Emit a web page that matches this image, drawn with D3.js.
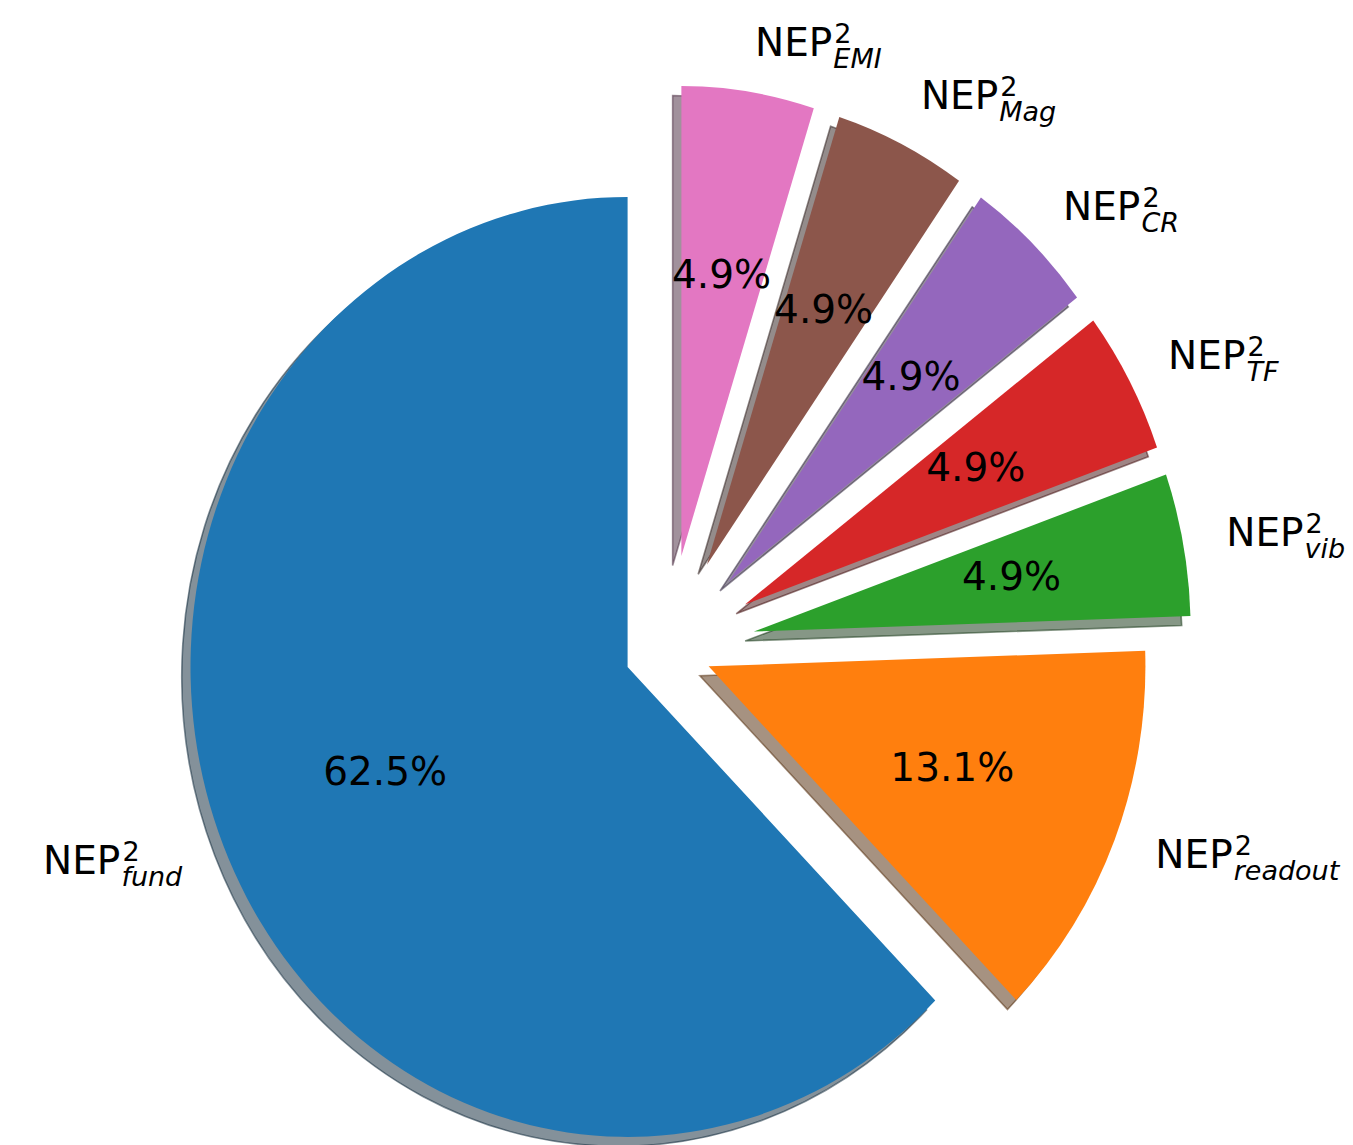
<!DOCTYPE html>
<html>
<head>
<meta charset="utf-8">
<script src="https://cdn.jsdelivr.net/npm/d3@7"></script>
<style>
  html, body { margin: 0; padding: 0; background: #ffffff; }
  svg { display: block; }
  text { font-family: "DejaVu Sans", sans-serif; fill: #000; }
</style>
</head>
<body>
<svg id="chart" width="1353" height="1145"></svg>
<script>
// Noise contributions (NEP² terms), in percent
const categories = ["fund", "readout", "vib", "TF", "CR", "Mag", "EMI"];
const shares = [62.5, 13.1, 4.9, 4.9, 4.9, 4.9, 4.9];
const explode = [0.1, 0.1, 0.2, 0.2, 0.2, 0.2, 0.2];
const colors = ["#1f77b4", "#ff7f0e", "#2ca02c", "#d62728", "#9467bd", "#8c564b", "#e377c2"];

const cx = 668, cy = 649;      // pie centre on the page
const rx = 437, ry = 470;      // axes are not equal-aspect, so the pie is an ellipse
const labelDistance = 1.1, pctDistance = 0.6;
const shadowOffset = 0.02;
const fs = 39, sfs = 27;       // main text / script sizes
const supShift = 13, subShift = 12;

const svg = d3.select("#chart");

// unit coordinates (radius 1, y pointing down) -> page pixels
const sx = d3.scaleLinear().domain([-1, 1]).range([cx - rx, cx + rx]);
const sy = d3.scaleLinear().domain([-1, 1]).range([cy - ry, cy + ry]);

// start at 12 o'clock, run counter-clockwise
const pie = d3.pie().sort(null).startAngle(0).endAngle(-2 * Math.PI);
const arcs = pie(shares).map((d, i) => {
  const a = (d.startAngle + d.endAngle) / 2;
  const ux = Math.sin(a), uy = -Math.cos(a);
  return Object.assign(d, {
    i, ux, uy,
    ox: explode[i] * ux,
    oy: explode[i] * uy
  });
});

const arc = d3.arc().innerRadius(0).outerRadius(1);

function shade(hex) {
  const c = d3.rgb(hex);
  return d3.rgb(c.r * 0.3, c.g * 0.3, c.b * 0.3).formatHex();
}

// shadows sit beneath every wedge
const shadows = svg.append("g").attr("class", "shadows");
shadows.selectAll("path").data(arcs).join("path")
  .attr("transform", d => `translate(${sx(d.ox - shadowOffset)},${sy(d.oy + shadowOffset)}) scale(${rx},${ry})`)
  .attr("d", arc)
  .attr("fill", d => shade(colors[d.i]))
  .attr("fill-opacity", 0.5)
  .attr("stroke", d => shade(colors[d.i]))
  .attr("stroke-opacity", 0.5)
  .attr("stroke-width", 1.6)
  .attr("vector-effect", "non-scaling-stroke");

const wedges = svg.append("g").attr("class", "wedges");
wedges.selectAll("path").data(arcs).join("path")
  .attr("transform", d => `translate(${sx(d.ox)},${sy(d.oy)}) scale(${rx},${ry})`)
  .attr("d", arc)
  .attr("fill", d => colors[d.i]);

// percentage labels
svg.append("g").attr("class", "pct")
  .selectAll("text").data(arcs).join("text")
  .attr("x", d => sx(d.ox + pctDistance * d.ux))
  .attr("y", d => sy(d.oy + pctDistance * d.uy) + 0.276 * fs)
  .attr("text-anchor", "middle")
  .attr("font-size", fs)
  .text(d => shares[d.i].toFixed(1) + "%");

// NEP^2_sub labels, each one text element with stacked super/subscript
const labels = svg.append("g").attr("class", "labels");
arcs.forEach(d => {
  const lx = d.ox + labelDistance * d.ux;
  const ly = d.oy + labelDistance * d.uy;
  const sub = categories[d.i];
  const top = -(supShift + 0.729 * sfs);
  const bottom = subShift + (/[gjpqy]/.test(sub) ? 0.236 * sfs : 0);
  const base = -(top + bottom) / 2;

  const t = labels.append("text").attr("x", 0).attr("y", base).attr("font-size", fs);
  t.append("tspan").text("NEP");
  const wMain = t.node().getSubStringLength(0, 3);
  t.append("tspan").attr("dx", 2).attr("dy", -supShift)
    .attr("font-size", sfs).text("2");
  t.append("tspan").attr("x", wMain + 1).attr("dy", supShift + subShift)
    .attr("font-size", sfs).attr("font-style", "italic").text(sub);
  const bb = t.node().getBBox();
  const width = bb.x + bb.width;
  const px = sx(lx) - (lx > 0 ? 0 : width);
  t.attr("transform", `translate(${px},${sy(ly)})`);
});
</script>
</body>
</html>
